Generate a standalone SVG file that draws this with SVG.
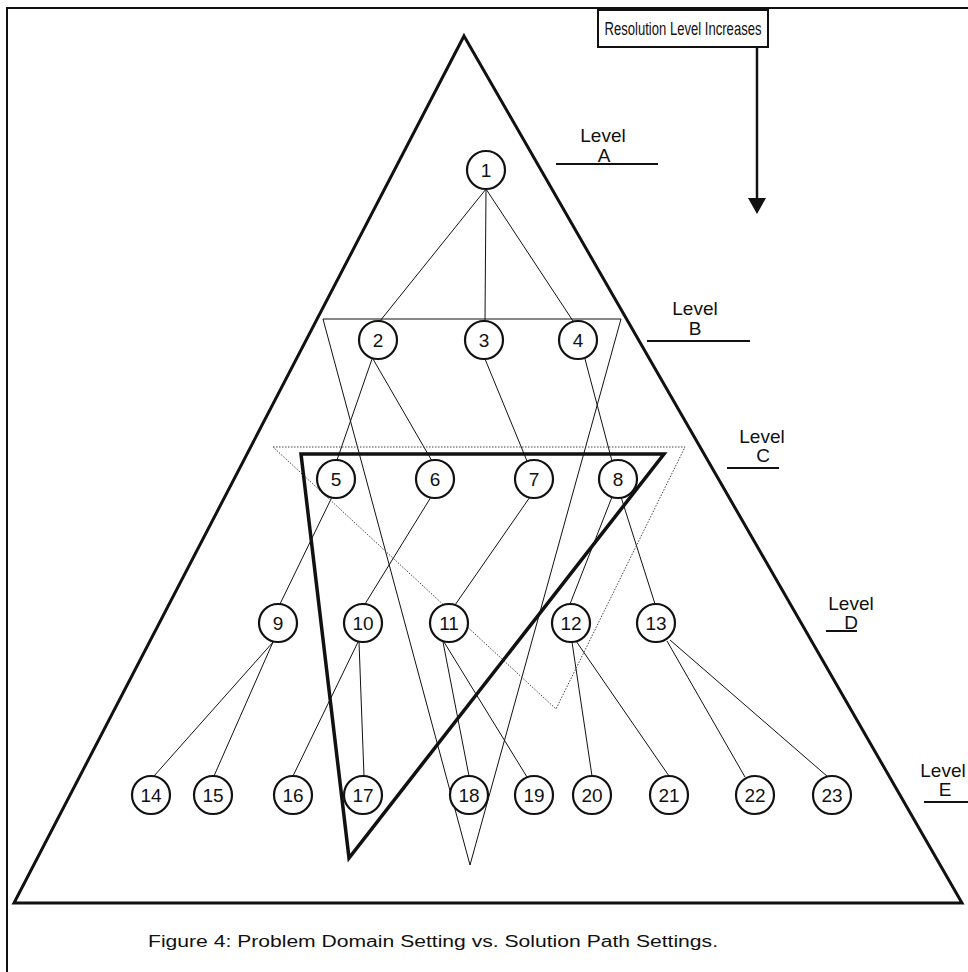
<svg xmlns="http://www.w3.org/2000/svg" width="968" height="972" viewBox="0 0 968 972">
<style>
.bg{fill:#fff}
.frame{fill:none;stroke:#111;stroke-width:2}
.big{fill:none;stroke:#111;stroke-width:3;stroke-linejoin:miter}
.thick{fill:none;stroke:#111;stroke-width:3.5;stroke-linejoin:miter}
.thin{fill:none;stroke:#111;stroke-width:1}
.dot{fill:none;stroke:#444;stroke-width:1;stroke-dasharray:1.5 1.5}
.edge{stroke:#111;stroke-width:1;fill:none}
.node circle{fill:#fff;stroke:#111;stroke-width:2.2}
.node text{font-family:"Liberation Sans",Arial,sans-serif;font-size:19px;fill:#111;text-anchor:middle}
.lbl{font-family:"Liberation Sans",Arial,sans-serif;font-size:19px;fill:#111;text-anchor:middle}
.uline{stroke:#111;stroke-width:2}
.cap{font-family:"Liberation Sans",Arial,sans-serif;font-size:16px;fill:#111}
</style>
<rect class="bg" x="0" y="0" width="968" height="972"/>
<path class="frame" d="M7,972 V8 H968"/>

<g id="title-box">
<rect x="598" y="10" width="170" height="37" fill="#fff" stroke="#111" stroke-width="2"/>
<text x="683" y="35" font-family="'Liberation Sans',Arial,sans-serif" font-size="18" fill="#111" text-anchor="middle" textLength="157" lengthAdjust="spacingAndGlyphs">Resolution Level Increases</text>
<line x1="757" y1="47" x2="757" y2="200" stroke="#111" stroke-width="2.5"/>
<polygon points="748,198 766,198 757,214" fill="#111"/>
</g>

<g id="domain-triangle">
<polygon class="big" points="464,36 962,903 14,903"/>
</g>

<g id="levels">
<text class="lbl" x="603" y="142">Level</text><text class="lbl" x="604" y="162">A</text><line class="uline" x1="556" y1="164" x2="658" y2="164"/>
<text class="lbl" x="695" y="315">Level</text><text class="lbl" x="695" y="335">B</text><line class="uline" x1="647" y1="341" x2="750" y2="341"/>
<text class="lbl" x="762" y="443">Level</text><text class="lbl" x="763" y="462">C</text><line class="uline" x1="727" y1="468" x2="779" y2="468"/>
<text class="lbl" x="851" y="610">Level</text><text class="lbl" x="851" y="629">D</text><line class="uline" x1="826" y1="631" x2="857" y2="631"/>
<text class="lbl" x="943" y="777">Level</text><text class="lbl" x="945" y="796">E</text><line class="uline" x1="924" y1="802" x2="968" y2="802"/>
</g>

<g id="connectors">
<line class="edge" x1="486" y1="189" x2="380" y2="321"/>
<line class="edge" x1="486" y1="189" x2="485" y2="321"/>
<line class="edge" x1="486" y1="189" x2="573" y2="321"/>
<line class="edge" x1="372" y1="359" x2="337" y2="460"/>
<line class="edge" x1="373" y1="359" x2="432" y2="461"/>
<line class="edge" x1="485" y1="359" x2="527" y2="461"/>
<line class="edge" x1="585" y1="359" x2="612" y2="461"/>
<line class="edge" x1="332" y1="497" x2="280" y2="604"/>
<line class="edge" x1="431" y1="497" x2="365" y2="604"/>
<line class="edge" x1="530" y1="497" x2="455" y2="605"/>
<line class="edge" x1="612" y1="497" x2="570" y2="604"/>
<line class="edge" x1="621" y1="497" x2="655" y2="604"/>
<line class="edge" x1="274" y1="641" x2="154" y2="776"/>
<line class="edge" x1="273" y1="642" x2="214" y2="776"/>
<line class="edge" x1="358" y1="642" x2="293" y2="776"/>
<line class="edge" x1="359" y1="642" x2="364" y2="776"/>
<line class="edge" x1="443" y1="642" x2="469" y2="776"/>
<line class="edge" x1="444" y1="642" x2="527" y2="777"/>
<line class="edge" x1="572" y1="642" x2="592" y2="776"/>
<line class="edge" x1="576" y1="641" x2="669" y2="776"/>
<line class="edge" x1="667" y1="641" x2="745" y2="777"/>
<line class="edge" x1="670" y1="640" x2="828" y2="777"/>
</g>

<g id="solution-paths">
<polygon class="thin" points="323,319 621,319 470,865"/>
<polygon class="dot" points="273,447 685,447 556,709"/>
<polygon class="thick" points="301,454 664,454 349,858"/>
</g>

<g id="n1" class="node"><circle cx="486" cy="170" r="19"/><text x="486" y="177">1</text></g>
<g id="n2" class="node"><circle cx="378" cy="340" r="19"/><text x="378" y="347">2</text></g>
<g id="n3" class="node"><circle cx="484" cy="340" r="19"/><text x="484" y="347">3</text></g>
<g id="n4" class="node"><circle cx="578" cy="340" r="19"/><text x="578" y="347">4</text></g>
<g id="n5" class="node"><circle cx="336" cy="479" r="19"/><text x="336" y="486">5</text></g>
<g id="n6" class="node"><circle cx="435" cy="479" r="19"/><text x="435" y="486">6</text></g>
<g id="n7" class="node"><circle cx="534" cy="479" r="19"/><text x="534" y="486">7</text></g>
<g id="n8" class="node"><circle cx="618" cy="479" r="19"/><text x="618" y="486">8</text></g>
<g id="n9" class="node"><circle cx="278" cy="623" r="19"/><text x="278" y="630">9</text></g>
<g id="n10" class="node"><circle cx="363" cy="623" r="19"/><text x="363" y="630">10</text></g>
<g id="n11" class="node"><circle cx="449" cy="623" r="19"/><text x="449" y="630">11</text></g>
<g id="n12" class="node"><circle cx="571" cy="623" r="19"/><text x="571" y="630">12</text></g>
<g id="n13" class="node"><circle cx="656" cy="623" r="19"/><text x="656" y="630">13</text></g>
<g id="n14" class="node"><circle cx="151" cy="795" r="19"/><text x="151" y="802">14</text></g>
<g id="n15" class="node"><circle cx="213" cy="795" r="19"/><text x="213" y="802">15</text></g>
<g id="n16" class="node"><circle cx="293" cy="795" r="19"/><text x="293" y="802">16</text></g>
<g id="n17" class="node"><circle cx="363" cy="795" r="19"/><text x="363" y="802">17</text></g>
<g id="n18" class="node"><circle cx="469" cy="795" r="19"/><text x="469" y="802">18</text></g>
<g id="n19" class="node"><circle cx="534" cy="795" r="19"/><text x="534" y="802">19</text></g>
<g id="n20" class="node"><circle cx="592" cy="795" r="19"/><text x="592" y="802">20</text></g>
<g id="n21" class="node"><circle cx="669" cy="795" r="19"/><text x="669" y="802">21</text></g>
<g id="n22" class="node"><circle cx="755" cy="795" r="19"/><text x="755" y="802">22</text></g>
<g id="n23" class="node"><circle cx="832" cy="795" r="19"/><text x="832" y="802">23</text></g>

<text class="cap" x="148" y="947" textLength="570" lengthAdjust="spacingAndGlyphs">Figure 4: Problem Domain Setting vs. Solution Path Settings.</text>
</svg>
